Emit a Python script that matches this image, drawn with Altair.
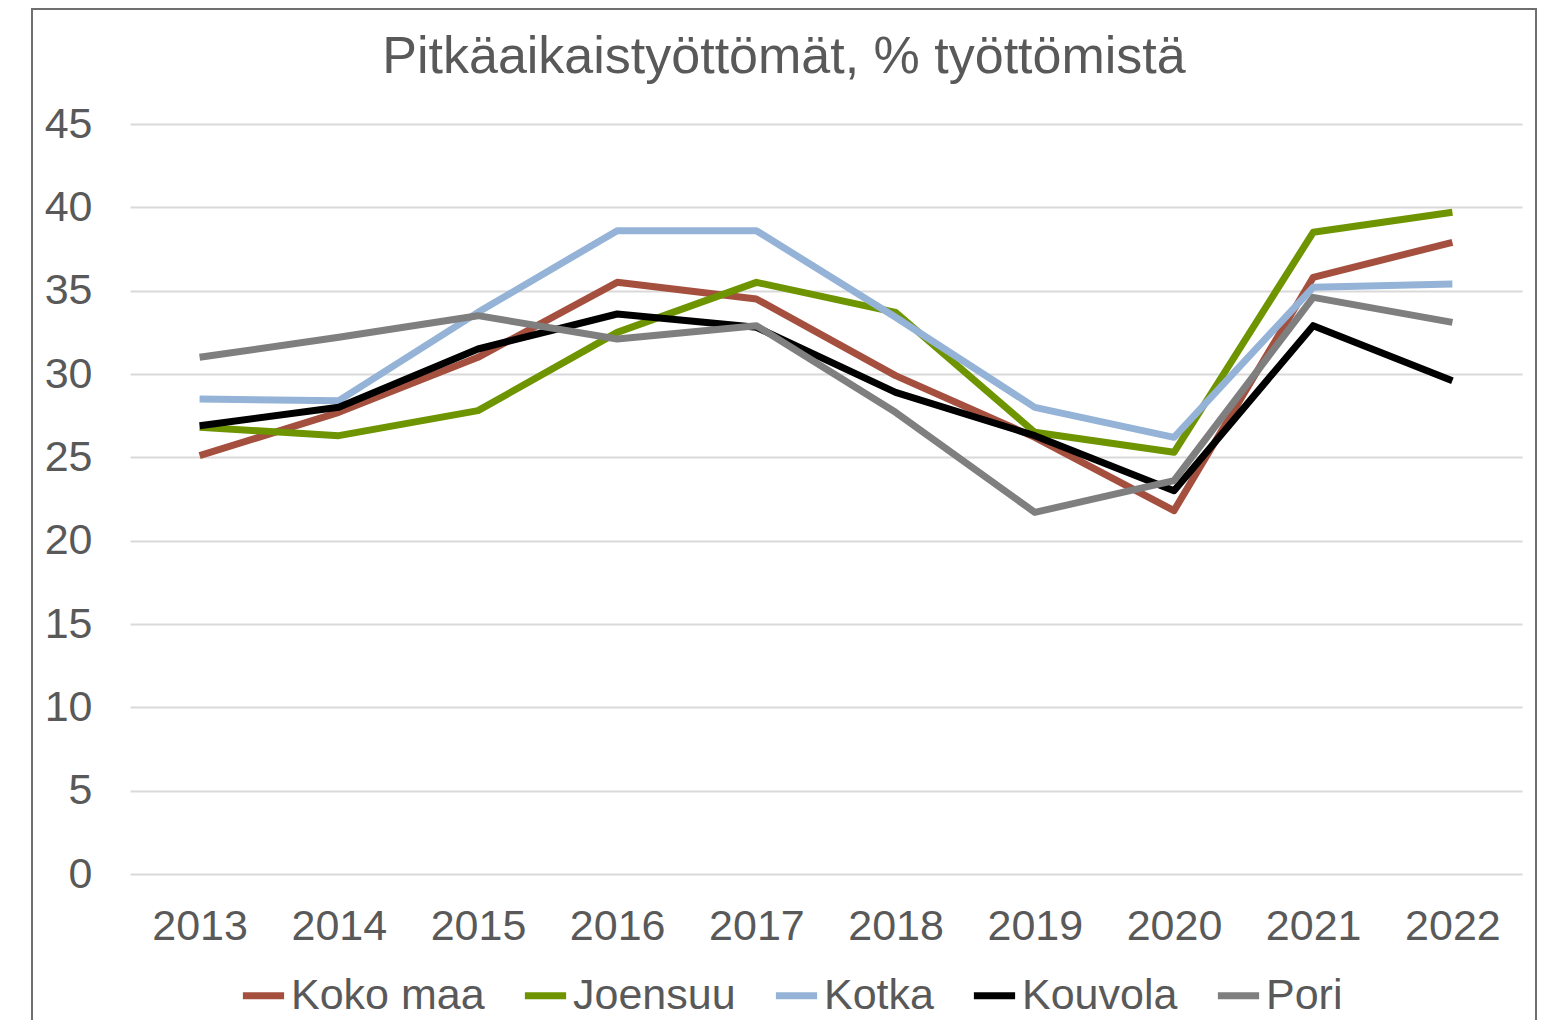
import altair as alt
import pandas as pd

years = [str(y) for y in range(2013, 2023)]
series = ["Koko maa", "Joensuu", "Kotka", "Kouvola", "Pori"]
koko_maa = [25.1, 27.7, 31.0, 35.5, 34.5, 29.9, 26.2, 21.8, 35.8, 37.9]
joensuu = [26.8, 26.3, 27.8, 32.5, 35.5, 33.7, 26.5, 25.3, 38.5, 39.7]
kotka = [28.5, 28.4, 33.7, 38.6, 38.6, 33.4, 28.0, 26.2, 35.2, 35.4]
kouvola = [26.9, 28.0, 31.5, 33.6, 32.8, 28.9, 26.3, 23.0, 32.9, 29.6]
pori = [31.0, 32.2, 33.5, 32.1, 32.9, 27.7, 21.7, 23.6, 34.6, 33.1]
colors = ["#A5503F", "#6E9400", "#95B3D7", "#000000", "#7F7F7F"]

values = [koko_maa, joensuu, kotka, kouvola, pori]
rows = []
for s, vals in zip(series, values):
    for y, v in zip(years, vals):
        rows.append({"Vuosi": y, "Sarja": s, "Arvo": v})
df = pd.DataFrame(rows)

FONT = "Liberation Sans"
TXT = "#595959"

lines = alt.Chart(df).mark_line(strokeWidth=7, strokeJoin="round").encode(
    x=alt.X("Vuosi:O", sort=years, title=None,
            scale=alt.Scale(type="point", padding=0.5),
            axis=alt.Axis(labelAngle=0, ticks=False, domain=False, grid=False,
                          labelPadding=31, labelFontSize=43, labelFont=FONT,
                          labelColor=TXT)),
    y=alt.Y("Arvo:Q", title=None,
            scale=alt.Scale(domain=[0, 45], nice=False, zero=True),
            axis=alt.Axis(values=list(range(0, 50, 5)), ticks=False, domain=False,
                          grid=True, gridColor="#D9D9D9", gridWidth=2,
                          labelPadding=38, labelFontSize=43, labelFont=FONT,
                          labelColor=TXT)),
    color=alt.Color("Sarja:N", sort=series,
                    scale=alt.Scale(domain=series, range=colors),
                    legend=alt.Legend(title=None, orient="none", direction="horizontal",
                                      legendX=109, legendY=847,
                                      symbolType="stroke", symbolSize=1700,
                                      symbolStrokeWidth=7, labelOffset=3,
                                      columnPadding=25, padding=0,
                                      labelFontSize=43, labelFont=FONT,
                                      labelColor=TXT, labelLimit=0)),
    order=alt.Order("Vuosi:O"),
)

frame = alt.Chart(pd.DataFrame({"k": [0]})).mark_rect(
    fill=None, stroke="#6F6F6F", strokeWidth=2
).encode(
    x=alt.value(-98), x2=alt.value(1406), y=alt.value(-115), y2=alt.value(930)
)

chart = alt.layer(frame, lines).properties(
    width=1392,
    height=750,
    title=alt.TitleParams(
        "Pitkäaikaistyöttömät, % työttömistä",
        fontSize=52, font=FONT, color=TXT, fontWeight="normal",
        anchor="middle", offset=-76, dx=-42,
    ),
    autosize=alt.AutoSizeParams(type="none"),
    padding={"left": 122, "top": 116, "right": 16, "bottom": 146},
).configure_view(stroke=None)

chart.save("out.html", embed_options={"renderer": "svg", "actions": False})
